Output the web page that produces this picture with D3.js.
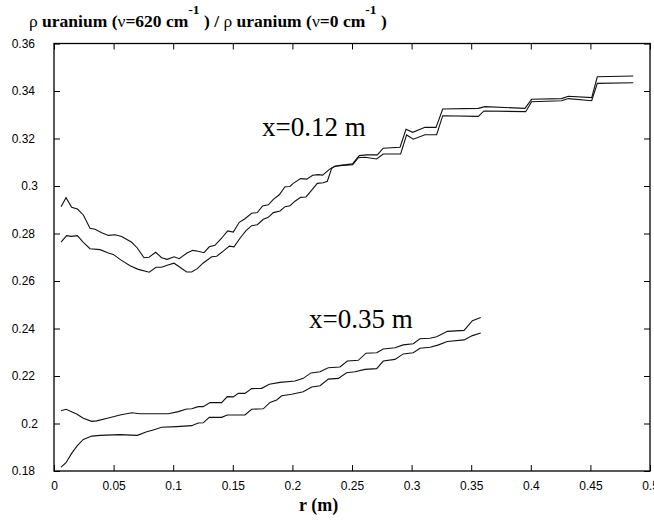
<!DOCTYPE html>
<html>
<head>
<meta charset="utf-8">
<script src="https://cdn.jsdelivr.net/npm/d3@7"></script>
<style>
  body { margin: 0; background: #fff; }
  svg { display: block; }
</style>
</head>
<body>
<script>
// r (m) vs density ratio
const curveA012 = [[0.0059,0.2913],[0.0101,0.2951],[0.0148,0.2910],[0.0196,0.2903],[0.0246,0.2878],[0.0302,0.2822],[0.0344,0.2818],[0.0400,0.2803],[0.0456,0.2792],[0.0512,0.2795],[0.0568,0.2787],[0.0652,0.2763],[0.0699,0.2739],[0.0755,0.2698],[0.0797,0.2700],[0.0853,0.2721],[0.0903,0.2698],[0.0950,0.2691],[0.1007,0.2702],[0.1051,0.2694],[0.1113,0.2717],[0.1163,0.2729],[0.1210,0.2725],[0.1258,0.2719],[0.1303,0.2744],[0.1350,0.2750],[0.1406,0.2780],[0.1457,0.2811],[0.1504,0.2806],[0.1554,0.2847],[0.1602,0.2862],[0.1658,0.2885],[0.1706,0.2888],[0.1750,0.2916],[0.1798,0.2921],[0.1840,0.2944],[0.1890,0.2963],[0.1938,0.2997],[0.1980,0.2998],[0.2007,0.3011],[0.2069,0.3031],[0.2120,0.3029],[0.2170,0.3045],[0.2217,0.3048],[0.2254,0.3046],[0.2310,0.3070],[0.2357,0.3083],[0.2399,0.3087],[0.2450,0.3090],[0.2506,0.3094],[0.2561,0.3128],[0.2623,0.3131],[0.2712,0.3131],[0.2762,0.3159],[0.2903,0.3163],[0.2953,0.3239],[0.3009,0.3226],[0.3112,0.3247],[0.3205,0.3247],[0.3261,0.3324],[0.3560,0.3327],[0.3616,0.3334],[0.3951,0.3327],[0.4007,0.3365],[0.4259,0.3368],[0.4315,0.3378],[0.4511,0.3372],[0.4558,0.3460],[0.4860,0.3463]];

const curveB012 = [[0.0059,0.2764],[0.0106,0.2791],[0.0148,0.2788],[0.0196,0.2791],[0.0246,0.2763],[0.0302,0.2736],[0.0386,0.2732],[0.0456,0.2718],[0.0497,0.2712],[0.0554,0.2691],[0.0638,0.2664],[0.0707,0.2649],[0.0799,0.2637],[0.0856,0.2658],[0.0903,0.2658],[0.0950,0.2666],[0.1007,0.2675],[0.1057,0.2658],[0.1113,0.2638],[0.1155,0.2638],[0.1202,0.2652],[0.1252,0.2676],[0.1323,0.2702],[0.1365,0.2704],[0.1420,0.2726],[0.1471,0.2747],[0.1510,0.2744],[0.1560,0.2780],[0.1611,0.2812],[0.1658,0.2833],[0.1706,0.2837],[0.1756,0.2860],[0.1798,0.2868],[0.1840,0.2888],[0.1896,0.2895],[0.1938,0.2913],[0.1980,0.2917],[0.2022,0.2936],[0.2069,0.2952],[0.2114,0.2954],[0.2162,0.2983],[0.2209,0.3011],[0.2259,0.3014],[0.2293,0.3020],[0.2330,0.3075],[0.2357,0.3083],[0.2399,0.3085],[0.2506,0.3090],[0.2553,0.3119],[0.2609,0.3121],[0.2707,0.3114],[0.2762,0.3135],[0.2908,0.3135],[0.2958,0.3215],[0.3014,0.3197],[0.3112,0.3216],[0.3210,0.3216],[0.3261,0.3296],[0.3560,0.3293],[0.3607,0.3316],[0.3957,0.3313],[0.4007,0.3355],[0.4259,0.3359],[0.4315,0.3368],[0.4511,0.3359],[0.4558,0.3432],[0.4860,0.3435]];

const curveA035 = [[0.0059,0.2054],[0.0101,0.2060],[0.0190,0.2040],[0.0246,0.2022],[0.0316,0.2009],[0.0358,0.2011],[0.0456,0.2023],[0.0554,0.2036],[0.0652,0.2045],[0.0721,0.2041],[0.0959,0.2041],[0.1043,0.2050],[0.1113,0.2061],[0.1155,0.2062],[0.1210,0.2071],[0.1252,0.2071],[0.1309,0.2088],[0.1406,0.2088],[0.1454,0.2113],[0.1504,0.2112],[0.1546,0.2127],[0.1602,0.2127],[0.1658,0.2147],[0.1742,0.2148],[0.1806,0.2165],[0.1896,0.2173],[0.2022,0.2179],[0.2091,0.2190],[0.2156,0.2213],[0.2232,0.2218],[0.2301,0.2235],[0.2399,0.2238],[0.2461,0.2263],[0.2553,0.2266],[0.2617,0.2296],[0.2707,0.2298],[0.2762,0.2314],[0.2860,0.2319],[0.2930,0.2331],[0.3014,0.2336],[0.3070,0.2357],[0.3154,0.2359],[0.3210,0.2365],[0.3300,0.2388],[0.3440,0.2392],[0.3510,0.2433],[0.3580,0.2446]];

const curveB035 = [[0.0059,0.1816],[0.0101,0.1835],[0.0148,0.1874],[0.0196,0.1907],[0.0246,0.1933],[0.0316,0.1947],[0.0386,0.1950],[0.0554,0.1953],[0.0699,0.1950],[0.0778,0.1965],[0.0833,0.1973],[0.0903,0.1984],[0.1029,0.1987],[0.1155,0.1991],[0.1210,0.2002],[0.1252,0.2003],[0.1303,0.2026],[0.1406,0.2026],[0.1454,0.2036],[0.1602,0.2036],[0.1658,0.2060],[0.1756,0.2062],[0.1812,0.2089],[0.1868,0.2099],[0.1910,0.2117],[0.1994,0.2123],[0.2091,0.2134],[0.2162,0.2154],[0.2232,0.2159],[0.2301,0.2187],[0.2385,0.2190],[0.2455,0.2214],[0.2525,0.2218],[0.2609,0.2228],[0.2707,0.2231],[0.2762,0.2263],[0.2860,0.2270],[0.2930,0.2293],[0.3014,0.2298],[0.3070,0.2317],[0.3154,0.2321],[0.3220,0.2330],[0.3300,0.2345],[0.3440,0.2352],[0.3510,0.2370],[0.3580,0.2381]];

const xTicks = [0, 0.05, 0.1, 0.15, 0.2, 0.25, 0.3, 0.35, 0.4, 0.45, 0.5];
const yTicks = [0.18, 0.2, 0.22, 0.24, 0.26, 0.28, 0.3, 0.32, 0.34, 0.36];
const labels = [{text: "x=0.12 m", r: 0.1745, v: 0.3211}, {text: "x=0.35 m", r: 0.214, v: 0.2402}];

const w = 654, h = 522;
const margin = {top: 43.5, right: 4, bottom: 51, left: 54};

let svg = d3.select("body").append("svg")
    .attr("width", w)
    .attr("height", h);

let x = d3.scaleLinear().domain([0, 0.5]).range([margin.left, w - margin.right]);
let y = d3.scaleLinear().domain([0.18, 0.36]).range([h - margin.bottom, margin.top]);

const fmt = d => String(+d.toFixed(2));

// bottom axis, ticks pointing inward
svg.append("g")
    .attr("transform", `translate(0,${y(0.18)})`)
    .call(d3.axisBottom(x).tickValues(xTicks).tickFormat(fmt).tickSizeInner(-6).tickSizeOuter(0).tickPadding(10))
    .call(g => g.select(".domain").remove())
    .call(g => g.selectAll("text").attr("font-family", "Liberation Sans, Arial, sans-serif").attr("font-size", 12));

// top axis, ticks only
svg.append("g")
    .attr("transform", `translate(0,${y(0.36)})`)
    .call(d3.axisTop(x).tickValues(xTicks).tickFormat("").tickSizeInner(-6).tickSizeOuter(0))
    .call(g => g.select(".domain").remove());

// left axis
svg.append("g")
    .attr("transform", `translate(${x(0)},0)`)
    .call(d3.axisLeft(y).tickValues(yTicks).tickFormat(fmt).tickSizeInner(-6).tickSizeOuter(0).tickPadding(19))
    .call(g => g.select(".domain").remove())
    .call(g => g.selectAll("text")
        .attr("font-family", "Liberation Sans, Arial, sans-serif")
        .attr("font-size", 12)
        .attr("dx", d => fmt(d).length < 4 ? 3 : 0));

// right axis, ticks only
svg.append("g")
    .attr("transform", `translate(${x(0.5)},0)`)
    .call(d3.axisRight(y).tickValues(yTicks).tickFormat("").tickSizeInner(-6).tickSizeOuter(0))
    .call(g => g.select(".domain").remove());

// frame
svg.append("rect")
    .attr("x", x(0))
    .attr("y", y(0.36))
    .attr("width", x(0.5) - x(0))
    .attr("height", y(0.18) - y(0.36))
    .attr("fill", "none")
    .attr("stroke", "#000")
    .attr("stroke-width", 1.3);

let line = d3.line()
    .x(d => x(d[0]))
    .y(d => y(d[1]));

svg.append("g")
    .selectAll("path")
    .data([curveA012, curveB012, curveA035, curveB035])
    .enter().append("path")
    .attr("d", line)
    .attr("fill", "none")
    .attr("stroke", "#111")
    .attr("stroke-width", 1.1);

svg.append("g")
    .selectAll("text")
    .data(labels)
    .enter().append("text")
    .attr("x", d => x(d.r))
    .attr("y", d => y(d.v))
    .attr("font-family", "Liberation Serif, Times New Roman, serif")
    .attr("font-size", 27)
    .text(d => d.text);

// title
let title = svg.append("text")
    .attr("x", 29)
    .attr("y", 27)
    .attr("font-family", "Liberation Serif, Times New Roman, serif")
    .attr("font-size", 17.5)
    .attr("font-weight", "bold");

const titleParts = [
    {t: "ρ", w: "normal"}, {t: " uranium (", w: "bold"}, {t: "ν", w: "normal"}, {t: "=620 cm", w: "bold"},
    {t: "-1", w: "bold", sup: true}, {t: " ) / ", w: "bold"},
    {t: "ρ", w: "normal"}, {t: " uranium (", w: "bold"}, {t: "ν", w: "normal"}, {t: "=0 cm", w: "bold"},
    {t: "-1", w: "bold", sup: true}, {t: " )", w: "bold"}
];
titleParts.forEach((p, i) => {
    let prev = titleParts[i - 1];
    title.append("tspan")
        .attr("font-weight", p.w)
        .attr("font-size", p.sup ? 13.5 : 17.5)
        .attr("dy", p.sup ? -13 : (prev && prev.sup ? 13 : 0))
        .text(p.t);
});

svg.append("text")
    .attr("x", x(0.222))
    .attr("y", 511)
    .attr("text-anchor", "middle")
    .attr("font-family", "Liberation Serif, Times New Roman, serif")
    .attr("font-size", 18)
    .attr("font-weight", "bold")
    .text("r (m)");
</script>
</body>
</html>
